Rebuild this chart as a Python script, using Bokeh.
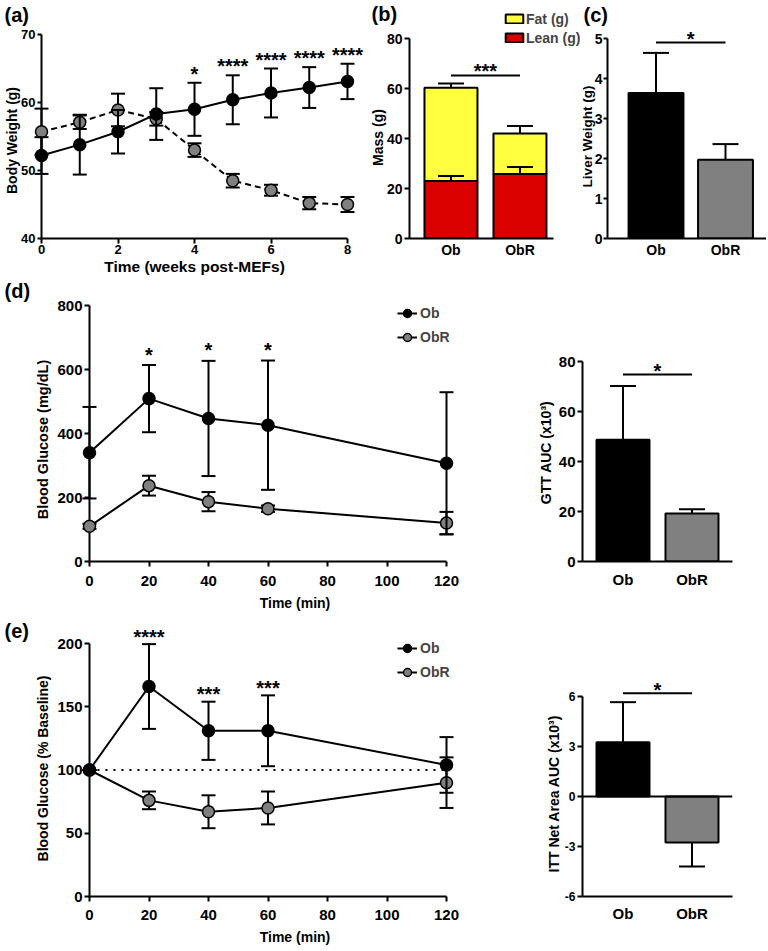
import math
from bokeh.plotting import figure
from bokeh.layouts import column, row
from bokeh.models import (Range1d, FixedTicker, ColumnDataSource, Legend, LegendItem, Span)
from bokeh.embed import file_html
from bokeh.resources import INLINE
from bokeh.core.properties import value

FONT = "Liberation Sans"

# ---------------- data ----------------
# (a) body weight
weeks = [0, 1, 2, 3, 4, 5, 6, 7, 8]
ob_weight = [52.2, 53.8, 55.7, 58.3, 59.0, 60.4, 61.4, 62.2, 63.1]
ob_weight_err = [2.7, 4.4, 3.2, 3.8, 3.9, 3.6, 3.6, 3.0, 2.6]
obr_weight = [55.7, 57.1, 58.9, 57.6, 53.0, 48.5, 47.1, 45.2, 45.0]
obr_weight_err = [3.4, 1.0, 2.4, 1.0, 1.0, 1.0, 0.8, 0.9, 1.1]
weight_stars = ["", "", "", "", "*", "****", "****", "****", "****"]

# (b) body composition, (c) liver
groups = ["Ob", "ObR"]
lean_mass = [23.0, 25.8]
lean_err = [2.0, 2.8]
fat_mass = [37.3, 16.2]
total_err = [1.7, 3.0]
liver_weight = [3.64, 1.97]
liver_err = [1.0, 0.39]

# (d) GTT
gtt_time = [0, 20, 40, 60, 120]
ob_gtt = [340, 509, 447, 426, 307]
ob_gtt_err = [143, 105, 180, 202, 222]
obr_gtt = [110, 237, 187, 165, 120]
obr_gtt_err = [8, 31, 30, 10, 35]
gtt_stars = ["", "*", "*", "*", ""]
gtt_auc = [48.7, 19.2]
gtt_auc_err = [21.5, 1.7]

# (e) ITT
itt_time = [0, 20, 40, 60, 120]
itt_baseline = 100
ob_itt = [100, 166, 131, 131, 104]
ob_itt_err = [0, 33.5, 23, 28, 22]
obr_itt = [100, 76, 67, 70, 90]
obr_itt_err = [0, 7, 13, 13, 20]
itt_stars = ["", "****", "***", "***", ""]
itt_auc = [3.26, -2.76]
itt_auc_err = [2.4, 1.44]
itt_auc_ticks = [-6, -3, 0, 3, 6]

GRAY = "#808080"
RED = "#DA0000"
YELLOW = "#FFFF40"
pos = [i + 0.5 for i in range(len(groups))]


def make_fig(ox, oy, width, height, left, right, top, bottom, xr, yr):
    p = figure(width=width, height=height, x_range=Range1d(*xr), y_range=Range1d(*yr),
               min_border_left=left, min_border_right=right,
               min_border_top=top, min_border_bottom=bottom,
               toolbar_location=None, output_backend="svg", title=None)
    p.outline_line_color = None
    p.xgrid.visible = False
    p.ygrid.visible = False
    for ax in p.axis:
        ax.axis_line_width = 2
        ax.axis_line_color = "black"
        ax.major_tick_line_width = 2
        ax.major_tick_line_color = "black"
        ax.major_tick_out = 5
        ax.major_tick_in = 0
        ax.minor_tick_line_color = None
        ax.major_label_text_font = FONT
        ax.major_label_text_font_style = "bold"
        ax.major_label_text_color = "black"
        ax.axis_label_text_font = FONT
        ax.axis_label_text_font_style = "bold"
        ax.axis_label_text_color = "black"
    p._geo = dict(fx=ox + left, fy=oy + top, fw=width - left - right,
                  fh=height - top - bottom, xr=xr, yr=yr)
    return p


def extend(lo, hi, px_lo, px_hi, px_edge):
    """value at pixel px_edge given lo at px_lo and hi at px_hi (linear)."""
    return lo + (px_edge - px_lo) * (hi - lo) / (px_hi - px_lo)


def to_data(p, px, py):
    g = p._geo
    x = g["xr"][0] + (px - g["fx"]) / g["fw"] * (g["xr"][1] - g["xr"][0])
    y = g["yr"][1] - (py - g["fy"]) / g["fh"] * (g["yr"][1] - g["yr"][0])
    return x, y


def set_axis(ax, ticks, tick_px, label=None, label_px=14, tick_out=5, lstand=2, astand=3,
             bounds=None):
    ax.ticker = FixedTicker(ticks=ticks)
    ax.major_label_text_font_size = f"{tick_px}px"
    ax.major_tick_out = tick_out
    ax.major_label_standoff = lstand
    ax.axis_label_standoff = astand
    if bounds:
        ax.bounds = bounds
    if label:
        ax.axis_label = label
        ax.axis_label_text_font_size = f"{label_px}px"


def page_text(p, text, px, py, size, angle=0.0, align="center", baseline="middle"):
    x, y = to_data(p, px, py)
    p.text(x=[x], y=[y], text=[text], angle=angle, text_font=value(FONT),
           text_font_style="bold", text_font_size=size, text_align=align,
           text_baseline=baseline, text_color="black", level="overlay")


def y_title(p, text, px, py, size="14px"):
    page_text(p, text, px, py, size, angle=math.pi / 2)


def panel_label(p, text, px, py):
    page_text(p, text, px, py, "20px", align="left", baseline="top")


def cat_axis(p, tick_px, lstand, bounds=None):
    ax = p.xaxis[0]
    ax.ticker = FixedTicker(ticks=pos)
    ax.major_label_overrides = {pos[i]: groups[i] for i in range(len(groups))}
    ax.major_tick_line_color = None
    ax.major_tick_out = 0
    ax.major_label_text_font_size = f"{tick_px}px"
    ax.major_label_standoff = lstand
    if bounds:
        ax.bounds = bounds


def errbars(p, xs, lo, hi, cap, low_cap=True, up_cap=True):
    xs = list(xs)
    p.segment(x0=xs, y0=list(lo), x1=xs, y1=list(hi), line_width=2, line_color="black",
              level="overlay")
    if up_cap:
        p.scatter(xs, list(hi), marker="dash", size=cap, line_width=2, line_color="black",
                  level="overlay")
    if low_cap:
        p.scatter(xs, list(lo), marker="dash", size=cap, line_width=2, line_color="black",
                  level="overlay")


def stars(p, xs, ys, labels, yoff, size="20px"):
    d = dict(x=[], y=[], t=[])
    for x, y, t in zip(xs, ys, labels):
        if t:
            d["x"].append(x)
            d["y"].append(y)
            d["t"].append(t)
    p.text(x="x", y="y", text="t", source=ColumnDataSource(d), text_font=value(FONT),
           text_font_style="bold", text_font_size=size, text_align="center",
           text_baseline="alphabetic", y_offset=yoff, text_color="black", level="overlay")


def sig_bar(p, y, label, yoff):
    p.segment(x0=[pos[0]], y0=[y], x1=[pos[1]], y1=[y], line_width=2, line_color="black",
              level="overlay")
    stars(p, [(pos[0] + pos[1]) / 2], [y], [label], yoff)


def plus(a, b):
    return [u + v for u, v in zip(a, b)]


def minus(a, b):
    return [u - v for u, v in zip(a, b)]


def line_legend(p, r_ob, r_obr, loc):
    leg = Legend(items=[LegendItem(label="Ob", renderers=r_ob),
                        LegendItem(label="ObR", renderers=r_obr)],
                 location=loc, orientation="vertical", padding=0, margin=0, spacing=-2,
                 glyph_width=20, glyph_height=24, label_height=24, label_standoff=3,
                 label_text_font=FONT, label_text_font_style="bold",
                 label_text_font_size="14px", background_fill_alpha=0, border_line_alpha=0)
    p.add_layout(leg)


# ======================= ROW 1 (y 0..278) =======================
# ---------------- (a) ----------------
fa = make_fig(0, 0, 364, 278, 41, 17, 5, 40, (0, 8), (40, extend(40, 70, 238, 34, 5)))
set_axis(fa.yaxis[0], [40, 50, 60, 70], 13, tick_out=4, lstand=2, bounds=(40, 70))
set_axis(fa.xaxis[0], [0, 2, 4, 6, 8], 13, "Time (weeks post-MEFs)", 15.5, tick_out=5,
         lstand=1, astand=1)
fa.line(weeks, obr_weight, line_width=2, line_color="black", line_dash="6 4")
fa.line(weeks, ob_weight, line_width=2, line_color="black")
errbars(fa, weeks, minus(obr_weight, obr_weight_err), plus(obr_weight, obr_weight_err), 14)
fa.scatter(weeks, obr_weight, size=12, fill_color=GRAY, line_color="black", line_width=1.5,
           level="overlay")
errbars(fa, weeks, minus(ob_weight, ob_weight_err), plus(ob_weight, ob_weight_err), 14)
fa.scatter(weeks, ob_weight, size=12, fill_color="black", line_color="black", line_width=1.5,
           level="overlay")
stars(fa, weeks, plus(ob_weight, ob_weight_err), weight_stars, -9)
y_title(fa, "Body Weight (g)", 11, 140)
panel_label(fa, "(a)", 4, 3)

# ---------------- (b) ----------------
bx0 = -0.101
fb = make_fig(364, 0, 216, 278, 45, 0, 5, 40,
              (bx0, extend(bx0, bx0 + 1, 409, 478, 580)), (0, extend(0, 80, 238, 38, 5)))
set_axis(fb.yaxis[0], [0, 20, 40, 60, 80], 14, tick_out=5, lstand=2, bounds=(0, 80))
cat_axis(fb, 14, 3, bounds=(bx0, extend(bx0, bx0 + 1, 409, 478, 553)))
total_mass = plus(lean_mass, fat_mass)
lean_r = fb.vbar(x=pos, bottom=0, top=lean_mass, width=0.768, fill_color=RED,
                 line_color="black", line_width=2)
fat_r = fb.vbar(x=pos, bottom=lean_mass, top=total_mass, width=0.768, fill_color=YELLOW,
                line_color="black", line_width=2)
errbars(fb, pos, lean_mass, plus(lean_mass, lean_err), 26, low_cap=False)
errbars(fb, pos, total_mass, plus(total_mass, total_err), 26, low_cap=False)
sig_bar(fb, 65.2, "***", -5)
leg_b = Legend(items=[LegendItem(label="Fat (g)", renderers=[fat_r]),
                      LegendItem(label="Lean (g)", renderers=[lean_r])],
               location=(94, 192), orientation="vertical", padding=0, margin=0, spacing=2,
               glyph_width=22, glyph_height=11, label_height=17, label_standoff=1,
               label_text_font=FONT, label_text_font_style="bold", label_text_font_size="14px",
               background_fill_alpha=0, border_line_alpha=0)
fb.add_layout(leg_b)
y_title(fb, "Mass (g)", 377, 137)
panel_label(fb, "(b)", 371, 2)

# ---------------- (c) ----------------
fc = make_fig(580, 0, 186, 278, 27, 0, 5, 40, (-0.198, 2.090), (0, extend(0, 5, 238, 38, 5)))
set_axis(fc.yaxis[0], [0, 1, 2, 3, 4, 5], 14, tick_out=4, lstand=1, bounds=(0, 5))
cat_axis(fc, 14, 3)
fc.vbar(x=pos, bottom=0, top=liver_weight, width=0.79, fill_color=["black", GRAY],
        line_color="black", line_width=2)
errbars(fc, pos, liver_weight, plus(liver_weight, liver_err), 26, low_cap=False)
sig_bar(fc, 4.9, "*", -3.5)
y_title(fc, "Liver Weight (g)", 587, 136, "13.5px")
panel_label(fc, "(c)", 583, 3)

# ======================= ROW 2 (y 278..618) =======================
# ---------------- (d) ----------------
fd = make_fig(0, 278, 500, 340, 89, 0, 15, 57, (0, extend(0, 120, 89, 446, 500)),
              (0, extend(0, 800, 561, 305, 293)))
set_axis(fd.yaxis[0], [0, 200, 400, 600, 800], 15, tick_out=5, lstand=2, bounds=(0, 800))
set_axis(fd.xaxis[0], [0, 20, 40, 60, 80, 100, 120], 15, "Time (min)", 14,
         tick_out=5, lstand=9, astand=6, bounds=(0, 120))
obr_l = fd.line(gtt_time, obr_gtt, line_width=2, line_color="black")
ob_l = fd.line(gtt_time, ob_gtt, line_width=2, line_color="black")
errbars(fd, gtt_time, minus(obr_gtt, obr_gtt_err), plus(obr_gtt, obr_gtt_err), 14)
obr_s = fd.scatter(gtt_time, obr_gtt, size=12, fill_color=GRAY, line_color="black",
                   line_width=1.5, level="overlay")
errbars(fd, gtt_time, minus(ob_gtt, ob_gtt_err), plus(ob_gtt, ob_gtt_err), 14)
ob_s = fd.scatter(gtt_time, ob_gtt, size=12, fill_color="black", line_color="black",
                  line_width=1.5, level="overlay")
stars(fd, gtt_time, plus(ob_gtt, ob_gtt_err), gtt_stars, -10.5)
line_legend(fd, [ob_l, ob_s], [obr_l, obr_s], (308, 212))
y_title(fd, "Blood Glucose (mg/dL)", 42, 439, "14.5px")
panel_label(fd, "(d)", 4, 279)

# ---------------- GTT AUC ----------------
fg = make_fig(500, 278, 266, 340, 82, 34, 15, 57, (-0.087, 2.087),
              (0, extend(0, 80, 561, 361, 293)))
set_axis(fg.yaxis[0], [0, 20, 40, 60, 80], 15, tick_out=5, lstand=2, bounds=(0, 80))
cat_axis(fg, 15, 9)
fg.vbar(x=pos, bottom=0, top=gtt_auc, width=0.768, fill_color=["black", GRAY],
        line_color="black", line_width=2)
errbars(fg, pos, gtt_auc, plus(gtt_auc, gtt_auc_err), 26, low_cap=False)
sig_bar(fg, 74.8, "*", -4)
y_title(fg, "GTT AUC (x10³)", 545, 452)

# ======================= ROW 3 (y 618..949) =======================
# ---------------- (e) ----------------
fe = make_fig(0, 618, 500, 331, 89, 0, 10, 53, (0, extend(0, 120, 89, 446, 500)),
              (0, extend(0, 200, 896, 643, 628)))
set_axis(fe.yaxis[0], [0, 50, 100, 150, 200], 15, tick_out=5, lstand=2, bounds=(0, 200))
set_axis(fe.xaxis[0], [0, 20, 40, 60, 80, 100, 120], 15, "Time (min)", 14,
         tick_out=5, lstand=8, astand=6, bounds=(0, 120))
fe.segment(x0=[itt_time[0]], y0=[itt_baseline], x1=[itt_time[-1]], y1=[itt_baseline],
           line_color="black", line_width=2, line_dash="2 6")
obr_l2 = fe.line(itt_time, obr_itt, line_width=2, line_color="black")
ob_l2 = fe.line(itt_time, ob_itt, line_width=2, line_color="black")
errbars(fe, itt_time, minus(obr_itt, obr_itt_err), plus(obr_itt, obr_itt_err), 14)
obr_s2 = fe.scatter(itt_time, obr_itt, size=12, fill_color=GRAY, line_color="black",
                    line_width=1.5, level="overlay")
errbars(fe, itt_time, minus(ob_itt, ob_itt_err), plus(ob_itt, ob_itt_err), 14)
ob_s2 = fe.scatter(itt_time, ob_itt, size=12, fill_color="black", line_color="black",
                   line_width=1.5, level="overlay")
stars(fe, itt_time, plus(ob_itt, ob_itt_err), itt_stars, -7.5)
line_legend(fe, [ob_l2, ob_s2], [obr_l2, obr_s2], (308, 212))
y_title(fe, "Blood Glucose (% Baseline)", 42, 768)
panel_label(fe, "(e)", 4, 619)

# ---------------- ITT AUC ----------------
fi = make_fig(500, 618, 266, 331, 82, 34, 10, 53, (-0.087, 2.087),
              (-6, extend(-6, 6, 896, 696, 628)))
set_axis(fi.yaxis[0], itt_auc_ticks, 12, tick_out=5, lstand=2, bounds=(-6, 6))
fi.yaxis[0].major_label_overrides = {t: str(t) for t in itt_auc_ticks}
cat_axis(fi, 15, 8)
fi.add_layout(Span(location=0, dimension="width", line_color="black", line_width=2))
fi.vbar(x=pos, bottom=0, top=itt_auc, width=0.768, fill_color=["black", GRAY],
        line_color="black", line_width=2)
errbars(fi, pos[:1], itt_auc[:1], plus(itt_auc, itt_auc_err)[:1], 26, low_cap=False)
errbars(fi, pos[1:], minus(itt_auc, itt_auc_err)[1:], itt_auc[1:], 26, up_cap=False)
sig_bar(fi, 6.2, "*", -3.5)
y_title(fi, "ITT Net Area AUC (x10³)", 553, 793)

layout = column(row(fa, fb, fc), row(fd, fg), row(fe, fi))
open("out.html", "w").write(file_html(layout, INLINE))
